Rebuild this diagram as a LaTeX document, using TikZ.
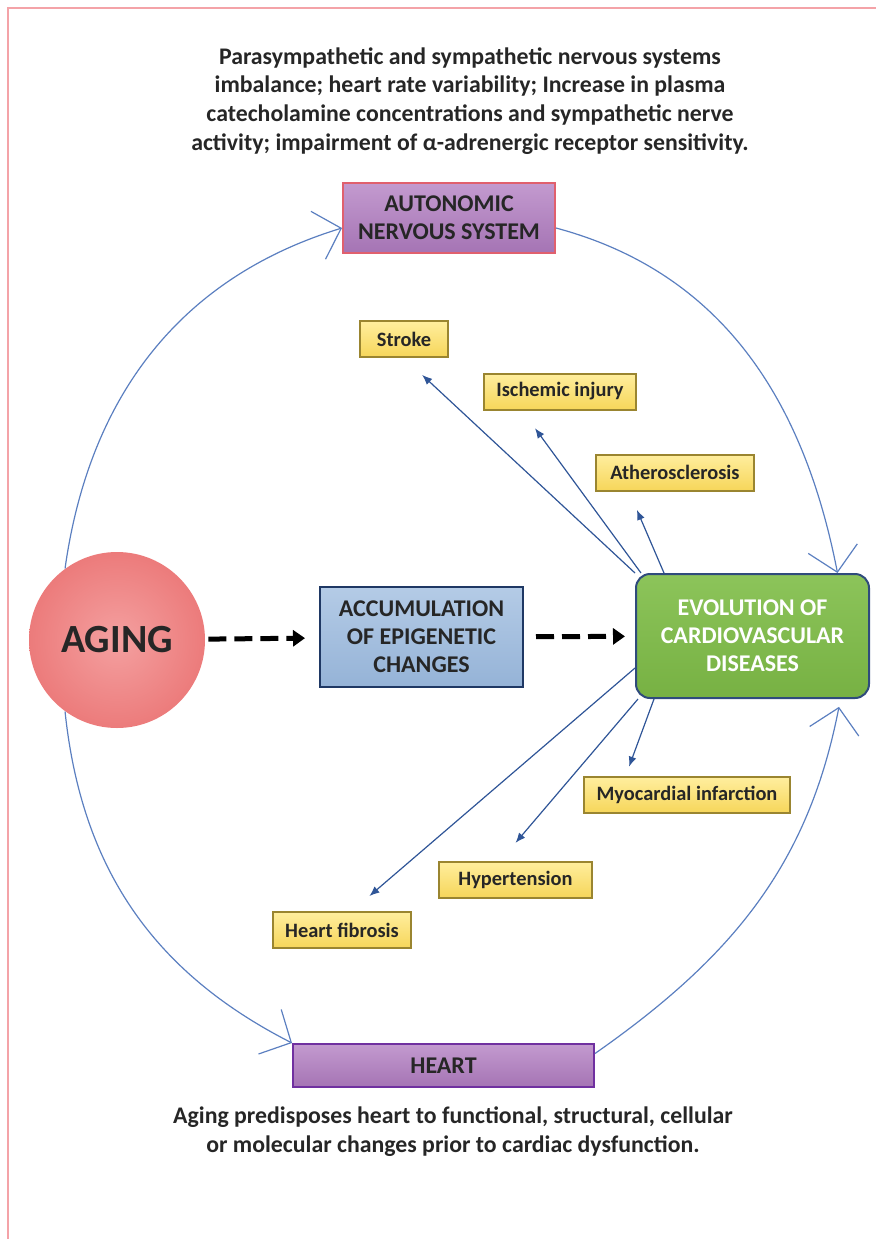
\documentclass[tikz,border=0pt]{standalone}
\usepackage{fontspec}
\setmainfont{Carlito}
\usetikzlibrary{arrows.meta}
\definecolor{framepink}{HTML}{F4A3A8}
\definecolor{textdark}{HTML}{262626}
\definecolor{curveblue}{HTML}{5B7FC0}
\definecolor{arrowblue}{HTML}{2F5597}
\definecolor{ansfill}{HTML}{A574B4}
\definecolor{anstop}{HTML}{C39ACF}
\definecolor{ansline}{HTML}{E0606E}
\definecolor{heartline}{HTML}{7030A0}
\definecolor{epifill}{HTML}{95B3D7}
\definecolor{epitop}{HTML}{B4CBE6}
\definecolor{epiline}{HTML}{1F3864}
\definecolor{cvdfill}{HTML}{77B143}
\definecolor{cvdtop}{HTML}{8CC45A}
\definecolor{cvdline}{HTML}{2F4B7C}
\definecolor{yellowfill}{HTML}{F6D65A}
\definecolor{yellowtop}{HTML}{FFEE9E}
\definecolor{yellowline}{HTML}{9A8530}
\definecolor{agingin}{HTML}{F4A0A0}
\definecolor{agingout}{HTML}{EC7B7B}
\begin{document}
\begin{tikzpicture}
[x=0.5pt,y=0.5pt,
  boxdecorate/.style={shape=rectangle,draw,line width=1pt,align=center,inner sep=0pt,%
    text=textdark,font=\bfseries\fontsize{12}{14}\selectfont},
  purpledecorate/.style={boxdecorate,top color=anstop,bottom color=ansfill},
  yellowdecorate/.style={boxdecorate,draw=yellowline,top color=yellowtop,bottom color=yellowfill,%
    minimum height=18pt,font=\bfseries\fontsize{10.2}{12}\selectfont},
  textdecorate/.style={align=center,text=textdark,font=\bfseries\fontsize{11.9}{14.4}\selectfont},
  linedecorate/.style={draw=curveblue,line width=0.6pt,-{Straight Barb[length=12pt,width=25pt]}},
  arrowdecorate/.style={draw=arrowblue,line width=0.6pt,-{Latex[length=5pt,width=4pt]}},
  dashdecorate/.style={draw=black,line width=2.5pt,dash pattern=on 9pt off 4pt,%
    -{Triangle[length=6pt,width=8pt]}}]
\useasboundingbox (0,0) rectangle (876,-1239);
\draw[framepink,line width=1pt] (8,-1239) -- (8,-8) -- (876,-8);
%%% texts
\node (toptext) at (470,-101) [textdecorate] {Parasympathetic and sympathetic nervous systems\\
  imbalance; heart rate variability; Increase in plasma\\
  catecholamine concentrations and sympathetic nerve\\
  activity; impairment of α-adrenergic receptor sensitivity.};
\node (bottomtext) at (453,-1132) [textdecorate] {Aging predisposes heart to functional, structural, cellular\\
  or molecular changes prior to cardiac dysfunction.};
%%% main boxes
% nodes
\node (aging) at (117,-640) [shape=circle,minimum size=88pt,inner color=agingin,outer color=agingout,%
  text=textdark,font=\bfseries\fontsize{20}{23}\selectfont] {AGING};
\node (epi) at (421.5,-637) [boxdecorate,draw=epiline,top color=epitop,bottom color=epifill,%
  minimum width=101.5pt,minimum height=50pt] {ACCUMULATION\\OF EPIGENETIC\\CHANGES};
\node (cvd) at (752.5,-636) [boxdecorate,draw=cvdline,top color=cvdtop,bottom color=cvdfill,%
  rounded corners=7pt,minimum width=116.5pt,minimum height=62pt,text=white] {EVOLUTION OF\\CARDIOVASCULAR\\DISEASES};
\node (ans) at (449,-218) [purpledecorate,draw=ansline,minimum width=106pt,minimum height=35pt] {AUTONOMIC\\NERVOUS SYSTEM};
\node (heart) at (443.5,-1065.5) [purpledecorate,draw=heartline,minimum width=150.5pt,minimum height=21.5pt] {HEART};
% dashed arrows
\path
(aging) edge[dashdecorate,shorten <=1.5pt,shorten >=7pt] (epi)
(epi) edge[dashdecorate,shorten <=6pt,shorten >=5pt] (cvd);
%%% outcomes
% nodes
\node (stroke) at (404,-339) [yellowdecorate,minimum width=44pt] {Stroke};
\node (ischemic) at (560,-391.5) [yellowdecorate,minimum width=76pt] {Ischemic injury};
\node (athero) at (675,-472.5) [yellowdecorate,minimum width=79pt] {Atherosclerosis};
\node (myo) at (687,-795) [yellowdecorate,minimum width=103pt] {Myocardial infarction};
\node (hyper) at (515.5,-879.5) [yellowdecorate,minimum width=76.5pt] {Hypertension};
\node (fibrosis) at (342,-930) [yellowdecorate,minimum width=69pt] {Heart fibrosis};
% arrows
\path
(cvd.north west) edge[arrowdecorate,shorten >=12.4pt] (stroke.south)
([xshift=3pt]cvd.north west) edge[arrowdecorate,shorten >=11pt] ([xshift=-19pt]ischemic.south)
([xshift=14.5pt]cvd.north west) edge[arrowdecorate,shorten >=10pt] ([xshift=-23pt]athero.south)
([xshift=9.5pt]cvd.south west) edge[arrowdecorate,shorten >=5pt] ([xshift=-30.7pt]myo.north)
([xshift=1.5pt]cvd.south west) edge[arrowdecorate,shorten >=11.6pt] ([xshift=-7.5pt]hyper.north)
([yshift=-16pt]cvd.west) edge[arrowdecorate,shorten >=11.5pt] ([xshift=5pt]fibrosis.north);
%%% cycle
\draw[linedecorate] (aging.126) to[out=82,in=197] ([yshift=-5pt]ans.west);
\draw[linedecorate] ([yshift=-5pt]ans.east) to[out=-15,in=101] ([xshift=42.5pt]cvd.north);
\draw[linedecorate] (aging.234) to[out=-84,in=153] (heart.north west);
\draw[linedecorate,shorten >=4pt] ([yshift=6pt]heart.east) to[out=35,in=-101] ([xshift=44pt]cvd.south);
\end{tikzpicture}
\end{document}
